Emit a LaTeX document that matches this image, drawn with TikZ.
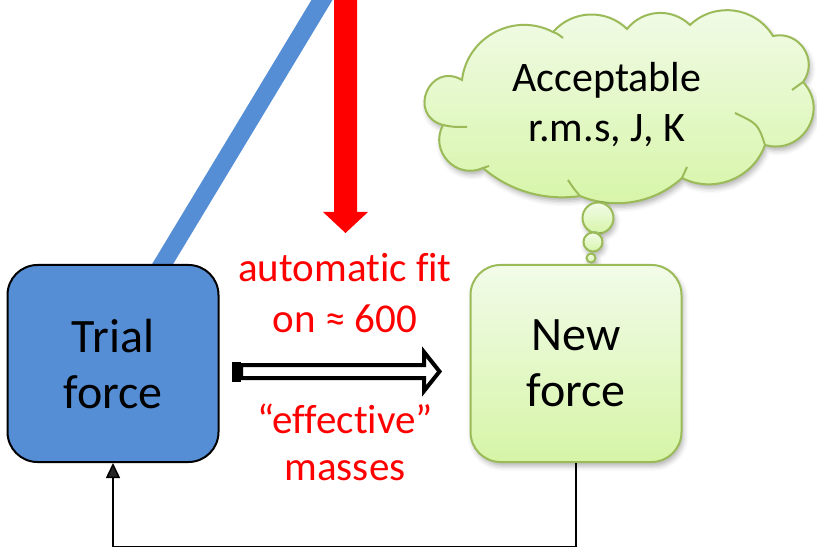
\documentclass[tikz,border=0pt]{standalone}
\usepackage{fontspec}
\setmainfont{Carlito}[Ligatures={NoCommon,NoContextual}]
\usetikzlibrary{arrows.meta,shadows.blur}
\definecolor{forceblue}{RGB}{85,142,213}
\definecolor{leafedge}{RGB}{155,187,89}
\definecolor{leaftop}{RGB}{242,251,233}
\definecolor{leafbottom}{RGB}{214,245,167}
\definecolor{alertred}{RGB}{255,0,0}
\tikzset{
  softshadow/.style={blur shadow={shadow xshift=2pt, shadow yshift=-4pt,
      shadow blur radius=5pt, shadow opacity=30}},
  forcebox/.style={rounded corners=30pt, minimum width=211pt, minimum height=197pt,
      inner sep=0pt, align=center, font=\fontsize{48}{56}\selectfont, line width=2pt},
  trialstyle/.style={forcebox, draw=black, fill=forceblue},
  newstyle/.style={forcebox, draw=leafedge, top color=leaftop, bottom color=leafbottom, softshadow},
  redline/.style={text=alertred, anchor=base, inner sep=0pt, font=\fontsize{41}{48}\selectfont},
  cloudline/.style={anchor=base, inner sep=0pt, font=\fontsize{42}{50}\selectfont},
  leafshape/.style={draw=leafedge, line width=2pt, top color=leaftop, bottom color=leafbottom},
  bubble/.style={circle, inner sep=0pt, leafshape, softshadow},
  puffline/.style={draw=leafedge, line width=2pt},
  loopline/.style={line width=1.5pt, -{Triangle[width=14pt,length=15pt]}},
}
\begin{document}
\begin{tikzpicture}[x=1pt,y=-1pt]
\useasboundingbox (0,0) rectangle (817,548);

% broad blue link entering the trial force from above
\coordinate (bluetop) at (325,-5);
\coordinate (bluefoot) at (156,275);
\draw[forceblue, line width=18pt] (bluetop) -- (bluefoot);

% the two force boxes
\node[trialstyle] (trial) at (113,363.5) {Trial\\force};

% thought cloud
\path[leafshape, softshadow]
  (462,80) .. controls (429.6,60.9) and (406.6,115.1) .. (443,125)
  .. controls (429.0,151.0) and (456.0,180.1) .. (483,168)
  .. controls (509.6,191.0) and (545.2,201.2) .. (580,196)
  .. controls (614.6,210.2) and (654.4,203.2) .. (682,178)
  .. controls (713.9,194.0) and (752.9,178.6) .. (765,145)
  .. controls (802.3,155.4) and (829.6,110.2) .. (803,82)
  .. controls (819.0,60.2) and (799.4,30.2) .. (773,36)
  .. controls (755.2,6.7) and (714.8,1.3) .. (690,25)
  .. controls (671.9,7.4) and (642.7,9.3) .. (627,29)
  .. controls (606.1,8.5) and (572.3,9.9) .. (553,32)
  .. controls (514.3,11.8) and (467.1,36.6) .. (462,80) -- cycle;
\draw[puffline] (443,125) .. controls (453,127) .. (467,127);
\draw[puffline] (483,168) .. controls (486,167) .. (489,166);
\draw[puffline] (580,196) .. controls (574,189) .. (568,180);
\draw[puffline] (682,178) .. controls (684,172) .. (687,167);
\draw[puffline] (765,145) .. controls (758,124) .. (735,113);
\draw[puffline] (803,82) .. controls (798,86) .. (792,90);
\draw[puffline] (553,32) .. controls (558,34) .. (563,38);
\node[cloudline] (cloudA) at (607,92) {Acceptable};
\node[cloudline] (cloudB) at (607,142) {r.m.s, J, K};

% thought bubbles
\node[bubble, minimum size=31pt] (bubbleA) at (598,218) {};
\node[bubble, minimum size=19pt] (bubbleB) at (593,242) {};
\node[bubble, minimum size=9pt] (bubbleC) at (591,258) {};

\node[newstyle] (newforce) at (576,363.5) {New\\force};

% red input arrow from above
\fill[alertred] (334,-5) -- (357,-5) -- (357,212) -- (368,212) -- (345.5,233)
  -- (323,212) -- (334,212) -- cycle;

% fit annotation
\node[redline] (fitA) at (345,281) {automatic fit};
\node[redline] (fitB) at (345,332) {on ≈ 600};
\node[redline] (massA) at (345,433) {“effective”};
\node[redline] (massB) at (345,480) {masses};

% hollow arrow from trial to new force
\fill (232,362) rectangle (241,382);
\draw[line width=4pt, fill=white, line join=miter]
  (241,365) -- (424,365) -- (424,352) -- (439.5,371.5) -- (424,391) -- (424,378)
  -- (241,378) -- cycle;

% feedback loop
\draw[loopline] (newforce.south) -- ++(0,83.5) -| (trial.south);
\end{tikzpicture}
\end{document}
